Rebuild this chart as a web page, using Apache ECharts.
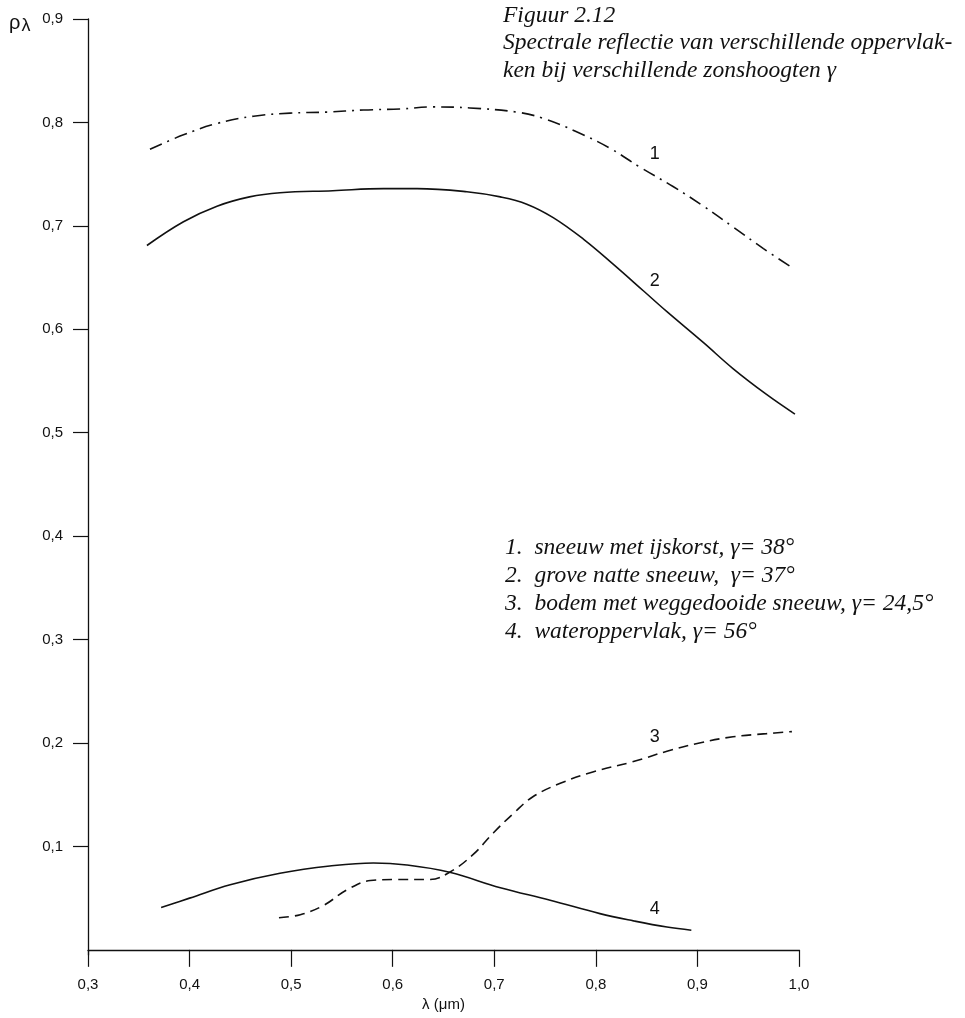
<!DOCTYPE html>
<html>
<head>
<meta charset="utf-8">
<script src="https://cdn.jsdelivr.net/npm/echarts@6/dist/echarts.min.js"></script>
<style>
  html, body { margin: 0; padding: 0; background: #fff; }
  #chart { width: 965px; height: 1018px; }
</style>
</head>
<body>
<div id="chart"></div>
<script>
// Spectral reflectance rho(lambda) against wavelength (um)
const snowIceCrust = [ // 1: dash-dot
  [0.361, 0.774], [0.394, 0.788], [0.427, 0.799], [0.463, 0.806], [0.499, 0.809],
  [0.535, 0.810], [0.571, 0.812], [0.607, 0.813], [0.640, 0.815], [0.676, 0.814],
  [0.722, 0.810], [0.748, 0.804], [0.781, 0.791], [0.814, 0.775], [0.843, 0.757],
  [0.876, 0.738], [0.906, 0.719], [0.935, 0.699], [0.965, 0.678], [0.991, 0.661]
];
const coarseWetSnow = [ // 2: solid
  [0.358, 0.681], [0.394, 0.704], [0.427, 0.719], [0.459, 0.728], [0.489, 0.732],
  [0.541, 0.734], [0.591, 0.736], [0.624, 0.736], [0.673, 0.733], [0.706, 0.728],
  [0.732, 0.721], [0.758, 0.708], [0.788, 0.687], [0.817, 0.663], [0.847, 0.637],
  [0.870, 0.617], [0.906, 0.587], [0.935, 0.562], [0.968, 0.537], [0.996, 0.518]
];
const soilMeltedSnow = [ // 3: dashed
  [0.488, 0.031], [0.509, 0.034], [0.532, 0.043], [0.555, 0.058], [0.578, 0.067],
  [0.604, 0.068], [0.637, 0.068], [0.656, 0.075], [0.679, 0.092], [0.699, 0.113],
  [0.719, 0.132], [0.738, 0.148], [0.765, 0.161], [0.797, 0.172], [0.837, 0.182],
  [0.870, 0.192], [0.902, 0.200], [0.935, 0.206], [0.968, 0.209], [0.993, 0.211]
];
const waterSurface = [ // 4: solid
  [0.372, 0.041], [0.400, 0.050], [0.440, 0.063], [0.489, 0.074], [0.538, 0.081],
  [0.581, 0.084], [0.614, 0.082], [0.656, 0.075], [0.706, 0.060], [0.755, 0.048],
  [0.804, 0.035], [0.837, 0.028], [0.870, 0.022], [0.894, 0.019]
];
const curveNames = ['1', '2', '3', '4'];
const curveTagPos = [[0.858, 0.769], [0.858, 0.647], [0.858, 0.206], [0.858, 0.039]];
const xTicks = [0.3, 0.4, 0.5, 0.6, 0.7, 0.8, 0.9, 1.0];
const yTicks = [0.1, 0.2, 0.3, 0.4, 0.5, 0.6, 0.7, 0.8, 0.9];
const headerLines = [
  'Figuur 2.12',
  'Spectrale reflectie van verschillende oppervlak-',
  'ken bij verschillende zonshoogten γ'
];
const legendLines = [
  '1.  sneeuw met ijskorst, γ= 38°',
  '2.  grove natte sneeuw,  γ= 37°',
  '3.  bodem met weggedooide sneeuw, γ= 24,5°',
  '4.  wateroppervlak, γ= 56°'
];

const ink = '#111';
const sans = '"Liberation Sans", Arial, sans-serif';
const serif = '"Liberation Serif", "Times New Roman", serif';
const comma = v => v.toFixed(1).replace('.', ',');

function curve(data, idx, type, width) {
  return {
    type: 'line',
    data: data,
    smooth: 0.4,
    symbol: 'none',
    silent: true,
    lineStyle: { color: ink, width: width, type: type },
    markPoint: {
      symbol: 'circle',
      symbolSize: 0,
      silent: true,
      data: [{ coord: curveTagPos[idx] }],
      label: {
        show: true,
        position: 'inside',
        formatter: curveNames[idx],
        color: ink,
        fontFamily: sans,
        fontSize: 18
      }
    }
  };
}

const italicSerif = { fontFamily: serif, fontStyle: 'italic', fontWeight: 'normal', fontSize: 23.5, color: ink };

const chart = echarts.init(document.getElementById('chart'), null, { renderer: 'canvas' });
chart.setOption({
  backgroundColor: '#fff',
  animation: false,
  title: [
    {
      left: 503, top: 2, padding: 0,
      text: headerLines.join('\n'),
      textStyle: Object.assign({ lineHeight: 27.5 }, italicSerif)
    },
    {
      left: 505, top: 534, padding: 0,
      text: legendLines.join('\n'),
      textStyle: Object.assign({ lineHeight: 28 }, italicSerif)
    },
    {
      left: 9, top: 12, padding: 0,
      text: '{r|ρ}{l|λ}',
      textStyle: {
        rich: {
          r: { fontFamily: sans, fontWeight: 'normal', fontSize: 20, color: ink },
          l: { fontFamily: sans, fontWeight: 'normal', fontSize: 18, color: ink, padding: [5, 0, 0, 1] }
        }
      }
    }
  ],
  grid: { left: 88, right: 166, top: 19, bottom: 63, containLabel: false },
  xAxis: {
    type: 'value',
    min: xTicks[0],
    max: xTicks[xTicks.length - 1],
    interval: 0.1,
    name: 'λ (μm)',
    nameLocation: 'middle',
    nameGap: 42,
    nameTextStyle: { fontFamily: sans, fontSize: 15, color: ink },
    axisLine: { lineStyle: { color: ink, width: 1.3 } },
    axisTick: { show: true, inside: false, length: 17, lineStyle: { color: ink, width: 1.2 }, customValues: xTicks },
    axisLabel: { customValues: xTicks, formatter: comma, fontFamily: sans, fontSize: 15, color: ink, margin: 22 },
    splitLine: { show: false }
  },
  yAxis: {
    type: 'value',
    min: -0.005,
    max: 0.9,
    axisLine: { show: true, lineStyle: { color: ink, width: 1.3 } },
    axisTick: { show: true, inside: false, length: 15, lineStyle: { color: ink, width: 1.2 }, customValues: yTicks },
    axisLabel: { customValues: yTicks, formatter: comma, fontFamily: sans, fontSize: 15, color: ink, margin: 25 },
    splitLine: { show: false }
  },
  series: [
    curve(snowIceCrust, 0, [13, 6, 2, 6], 1.6),
    curve(coarseWetSnow, 1, 'solid', 1.6),
    curve(soilMeltedSnow, 2, [10, 6], 1.6),
    curve(waterSurface, 3, 'solid', 1.6)
  ]
});
</script>
</body>
</html>
